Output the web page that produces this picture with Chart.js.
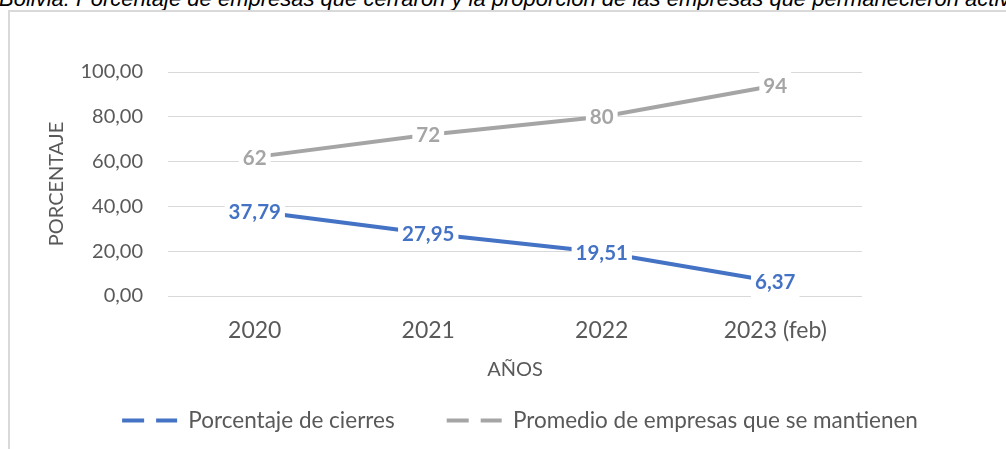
<!DOCTYPE html>
<html>
<head>
<meta charset="utf-8">
<script src="https://cdn.jsdelivr.net/npm/chart.js@4.4.1/dist/chart.umd.min.js"></script>
<style>
  html, body { margin: 0; padding: 0; background: #fff; width: 1006px; height: 449px; overflow: hidden; }
  #caption {
    position: absolute; left: -1px; top: -12px; width: 1100px; white-space: nowrap;
    font: italic 22px "Liberation Sans Narrow", "Arial Narrow", "Liberation Sans", sans-serif;
    line-height: 22px; color: #000;
  }
  #frame {
    position: absolute; left: 8px; top: 10px; width: 1100px; height: 500px;
    border-left: 2px solid #D9D9D9; border-top: 2px solid #D9D9D9;
  }
  #wrap { position: absolute; left: 10px; top: 12px; width: 996px; height: 437px; }
</style>
</head>
<body>
<div id="caption">Bolivia: Porcentaje de empresas que cerraron y la proporción de las empresas que permanecieron activas</div>
<div id="frame"></div>
<div id="wrap"><canvas id="chart"></canvas></div>
<script>
const years = ['2020', '2021', '2022', '2023 (feb)'];
const closures = [37.79, 27.95, 19.51, 6.37];
const remaining = [62, 72, 80, 94];
const seriesNames = ['Porcentaje de cierres', 'Promedio de empresas que se mantienen'];
const seriesColors = ['#4472C4', '#A5A5A5'];
const labelDecimals = [2, 0];

const FONT = "Lato, 'Open Sans', sans-serif";
const GREY_TEXT = '#595959';

const fmt = (v, d) => v.toFixed(d).replace('.', ',');

// data labels with white box behind, drawn over the lines
const valueLabels = {
  id: 'valueLabels',
  afterDatasetsDraw(chart) {
    const ctx = chart.ctx;
    ctx.save();
    ctx.font = `bold 20.5px ${FONT}`;
    ctx.textAlign = 'center';
    ctx.textBaseline = 'middle';
    chart.data.datasets.forEach((ds, i) => {
      chart.getDatasetMeta(i).data.forEach((pt, j) => {
        const txt = fmt(ds.data[j], labelDecimals[i]);
        const w = ctx.measureText(txt).width + 8;
        const h = 32;
        ctx.fillStyle = '#fff';
        ctx.fillRect(pt.x - w / 2, pt.y - h / 2, w, h);
        ctx.fillStyle = ds.borderColor;
        ctx.fillText(txt, pt.x, pt.y + 1);
      });
    });
    ctx.restore();
  }
};

new Chart(document.getElementById('chart'), {
  type: 'line',
  data: {
    labels: years,
    datasets: [
      { label: seriesNames[0], data: closures, borderColor: seriesColors[0], backgroundColor: seriesColors[0],
        borderWidth: 4, pointRadius: 0, tension: 0, borderCapStyle: 'round' },
      { label: seriesNames[1], data: remaining, borderColor: seriesColors[1], backgroundColor: seriesColors[1],
        borderWidth: 4, pointRadius: 0, tension: 0, borderCapStyle: 'round' }
    ]
  },
  options: {
    responsive: true,
    maintainAspectRatio: false,
    animation: false,
    layout: { padding: { left: 24, right: 0, top: 60, bottom: 7.25 } },
    scales: {
      x: {
        offset: true,
        grid: { display: false, drawTicks: false },
        border: { display: false },
        ticks: { color: GREY_TEXT, font: { family: FONT, size: 23 }, padding: 21, maxRotation: 0 },
        title: { display: true, text: 'AÑOS', color: GREY_TEXT, font: { family: FONT, size: 20 }, padding: { top: 0, bottom: -24.75 } },
        afterFit: s => { s.height = 61.25; }
      },
      y: {
        min: 0, max: 100,
        grid: { color: '#D9D9D9', lineWidth: 1, drawTicks: false },
        border: { display: false },
        ticks: { stepSize: 20, color: GREY_TEXT, font: { family: FONT, size: 20 }, padding: 25,
                 callback: v => fmt(v, 2) },
        title: { display: true, text: 'PORCENTAJE', color: GREY_TEXT, font: { family: FONT, size: 20 }, padding: { top: 10.5, bottom: 0 } },
        afterFit: s => { s.width = 134; }
      },
      // empty right-hand space so the legend centres like the original
      spacer: {
        position: 'right', display: true,
        grid: { display: false, drawTicks: false },
        border: { display: false },
        ticks: { display: false },
        afterFit: s => { s.width = 144; }
      }
    },
    plugins: {
      legend: {
        position: 'bottom',
        labels: {
          color: GREY_TEXT,
          font: { family: FONT, size: 22.5 },
          padding: 52,
          usePointStyle: true,
          pointStyleWidth: 55,
          generateLabels: chart => chart.data.datasets.map((ds, i) => ({
            text: ds.label,
            fillStyle: ds.borderColor,
            strokeStyle: ds.borderColor,
            fontColor: GREY_TEXT,
            lineWidth: 4,
            lineDash: [22, 12],
            pointStyle: 'line',
            datasetIndex: i
          }))
        }
      },
      tooltip: { enabled: false }
    }
  },
  plugins: [valueLabels]
});
</script>
</body>
</html>
